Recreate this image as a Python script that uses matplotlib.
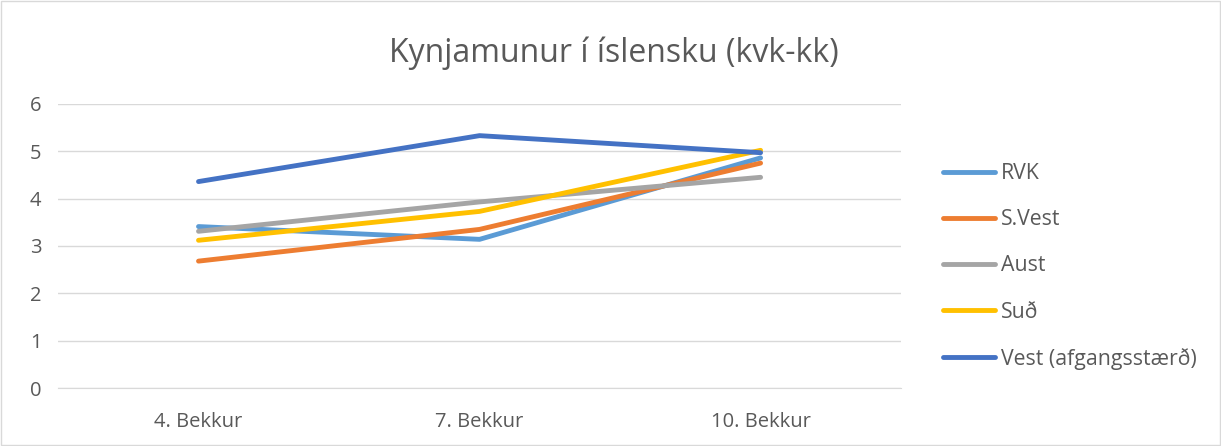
import matplotlib
matplotlib.use("Agg")
import matplotlib.pyplot as plt
from matplotlib.patches import Rectangle

categories = ["4. Bekkur", "7. Bekkur", "10. Bekkur"]
series_names = ["RVK", "S.Vest", "Aust", "Suð", "Vest (afgangsstærð)"]
rvk = [3.41, 3.14, 4.86]
svest = [2.68, 3.35, 4.75]
aust = [3.31, 3.93, 4.45]
sud = [3.12, 3.73, 5.02]
vest = [4.36, 5.33, 4.97]
colors = ["#5B9BD5", "#ED7D31", "#A5A5A5", "#FFC000", "#4472C4"]
yticks = [0, 1, 2, 3, 4, 5, 6]

plt.rcParams['font.family'] = ['Open Sans', 'DejaVu Sans']

fig = plt.figure(figsize=(12.21, 4.46), dpi=100)
ax = fig.add_axes([0.0475, 0.130, 0.6905, 0.637])

x = list(range(len(categories)))
for vals, name, c in zip([rvk, svest, aust, sud, vest], series_names, colors):
    ax.plot(x, vals, color=c, lw=3.5, solid_capstyle='round', solid_joinstyle='round', label=name)

ax.set_xlim(-0.5, len(categories) - 0.5)
ax.set_ylim(0, 6)
ax.set_yticks(yticks)
ax.set_xticks(x)
ax.set_xticklabels(categories)
ax.grid(axis='y', color='#D9D9D9', lw=1)
ax.set_axisbelow(True)
for s in ['left', 'right', 'top']:
    ax.spines[s].set_visible(False)
ax.spines['bottom'].set_color('#D9D9D9')
ax.tick_params(axis='both', length=0, labelsize=14.5, labelcolor='#595959')
ax.tick_params(axis='y', pad=12)
ax.tick_params(axis='x', pad=17)

fig.text(0.5025, 0.880, "Kynjamunur í íslensku (kvk-kk)", ha='center', va='center',
         fontsize=23, color='#595959')

leg = ax.legend(loc='center left', bbox_to_anchor=(1.0495, 0.428), frameon=False,
                borderaxespad=0, borderpad=0,
                fontsize=15.3, labelcolor='#595959', handlelength=2.45,
                handletextpad=0.3, labelspacing=1.18)

fig.add_artist(Rectangle((0.0008, 0.002), 0.998, 0.996, transform=fig.transFigure,
                         fill=False, edgecolor='#D9D9D9', lw=1))

fig.savefig("out.png", dpi=100)
